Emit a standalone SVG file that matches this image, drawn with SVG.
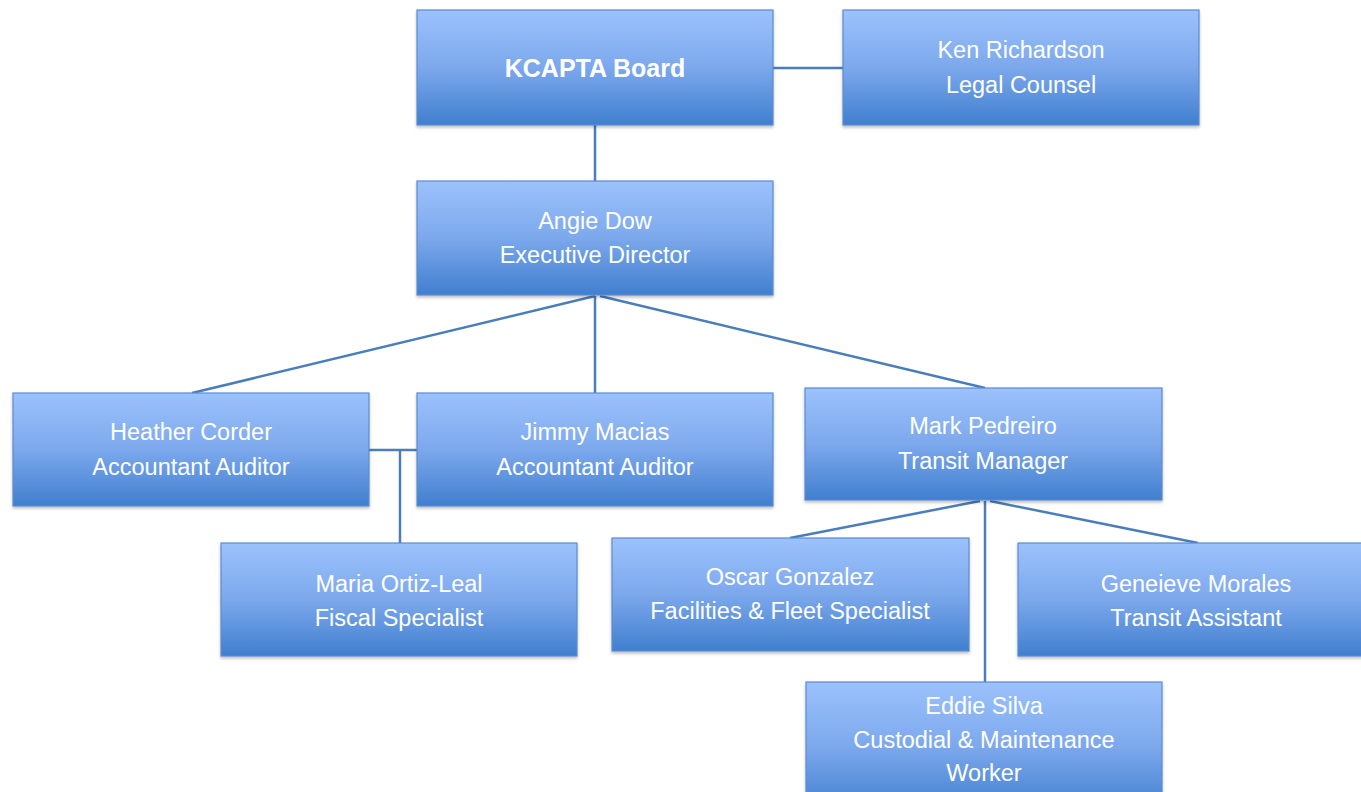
<svg xmlns="http://www.w3.org/2000/svg" width="1361" height="792" viewBox="0 0 1361 792">
<defs>
<linearGradient id="g" x1="0" y1="0" x2="0" y2="1">
<stop offset="0" stop-color="#9CC2FC"/>
<stop offset="0.5" stop-color="#7CA8EC"/>
<stop offset="1" stop-color="#407FCF"/>
</linearGradient>
<filter id="sh" x="-5%" y="-5%" width="110%" height="115%">
<feDropShadow dx="0" dy="2" stdDeviation="1.5" flood-color="#000" flood-opacity="0.25"/>
</filter>
</defs>
<style>
.box{fill:url(#g);stroke:#5B8BD2;stroke-width:1.2;filter:url(#sh)}
.t{font-family:"Liberation Sans",Arial,sans-serif;font-size:23.5px;fill:#fff;text-anchor:middle}
.b{font-weight:bold;font-size:25px}
.c{stroke:#4A7EBB;stroke-width:2.5;fill:none}
</style>
<rect width="1361" height="792" fill="#fff"/>
<g id="connectors">
<line class="c" x1="773" y1="68" x2="843" y2="68"/>
<line class="c" x1="595" y1="125" x2="595" y2="181"/>
<line class="c" x1="595" y1="296" x2="192" y2="393"/>
<line class="c" x1="595" y1="296" x2="595" y2="393"/>
<line class="c" x1="600" y1="296" x2="985" y2="388"/>
<line class="c" x1="369" y1="450" x2="417" y2="450"/>
<line class="c" x1="400" y1="450" x2="400" y2="543"/>
<line class="c" x1="980" y1="501" x2="790" y2="538"/>
<line class="c" x1="985" y1="501" x2="985" y2="682"/>
<line class="c" x1="990" y1="501" x2="1198" y2="543"/>
</g>
<g id="board"><rect class="box" x="417" y="10" width="356" height="115"/><text class="t b" x="595" y="77">KCAPTA Board</text></g>
<g id="ken"><rect class="box" x="843" y="10" width="356" height="115"/><text class="t" x="1021" y="58">Ken Richardson</text><text class="t" x="1021" y="93">Legal Counsel</text></g>
<g id="angie"><rect class="box" x="417" y="181" width="356" height="114"/><text class="t" x="595" y="229">Angie Dow</text><text class="t" x="595" y="263">Executive Director</text></g>
<g id="heather"><rect class="box" x="13" y="393" width="356" height="113"/><text class="t" x="191" y="440">Heather Corder</text><text class="t" x="191" y="475">Accountant Auditor</text></g>
<g id="jimmy"><rect class="box" x="417" y="393" width="356" height="113"/><text class="t" x="595" y="440">Jimmy Macias</text><text class="t" x="595" y="475">Accountant Auditor</text></g>
<g id="mark"><rect class="box" x="805" y="388" width="357" height="112"/><text class="t" x="983" y="434">Mark Pedreiro</text><text class="t" x="983" y="469">Transit Manager</text></g>
<g id="maria"><rect class="box" x="221" y="543" width="356" height="113"/><text class="t" x="399" y="592">Maria Ortiz-Leal</text><text class="t" x="399" y="626">Fiscal Specialist</text></g>
<g id="oscar"><rect class="box" x="612" y="538" width="357" height="113"/><text class="t" x="790" y="585">Oscar Gonzalez</text><text class="t" x="790" y="619">Facilities &amp; Fleet Specialist</text></g>
<g id="geneieve"><rect class="box" x="1018" y="543" width="356" height="113"/><text class="t" x="1196" y="592">Geneieve Morales</text><text class="t" x="1196" y="626">Transit Assistant</text></g>
<g id="eddie"><rect class="box" x="806" y="682" width="356" height="130"/><text class="t" x="984" y="714">Eddie Silva</text><text class="t" x="984" y="748">Custodial &amp; Maintenance</text><text class="t" x="984" y="781">Worker</text></g>
</svg>
